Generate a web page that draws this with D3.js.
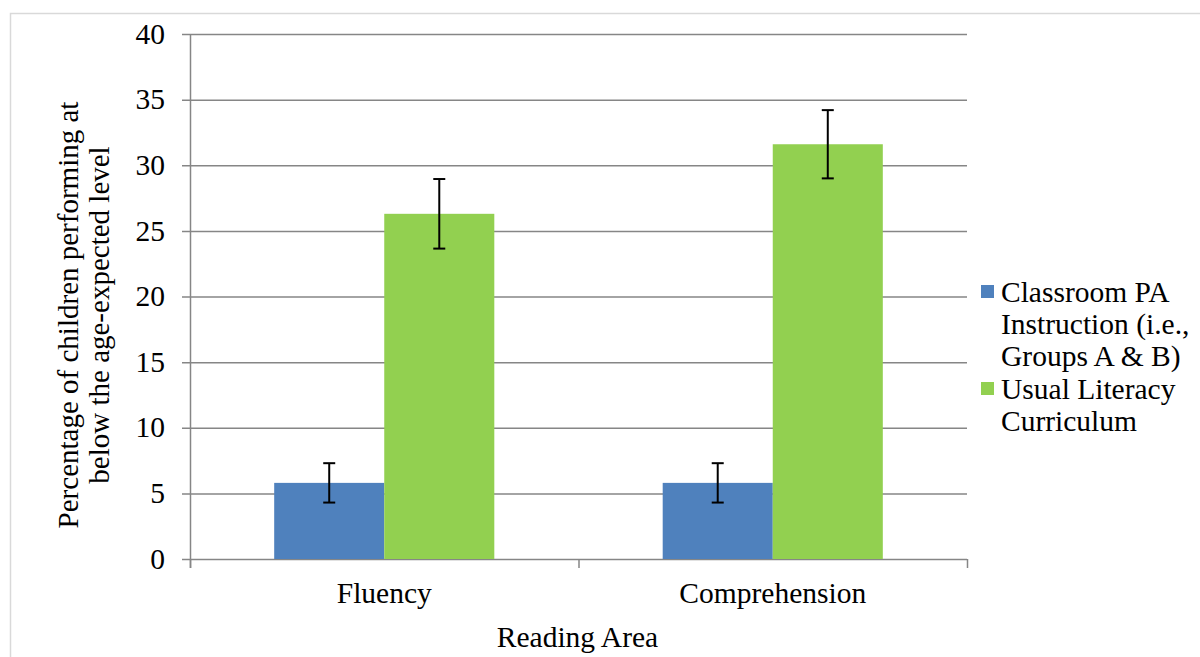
<!DOCTYPE html>
<html><head><meta charset="utf-8">
<script src="https://cdn.jsdelivr.net/npm/d3@7"></script>
<style>body{margin:0;background:#fff}svg{display:block}</style>
</head><body><svg id="c" width="1200" height="657"></svg>
<script>
const categories = ["Fluency", "Comprehension"];
const seriesNames = ["Classroom PA Instruction (i.e., Groups A & B)", "Usual Literacy Curriculum"];
const legendLines = [["Classroom PA", "Instruction (i.e.,", "Groups A & B)"], ["Usual Literacy", "Curriculum"]];
const classroomValues = [5.8, 5.8];
const classroomErrors = [1.5, 1.5];
const usualValues = [26.3, 31.6];
const usualErrors = [2.65, 2.6];
const yTicks = [0, 5, 10, 15, 20, 25, 30, 35, 40];
const colors = ["#4f81bd", "#92d050"];

const FONT = '"Liberation Serif"';
const FS = 29.5;
const svg = d3.select("#c");
// outer border
svg.append("rect").attr("x", 10.5).attr("y", 13.5).attr("width", 1200).attr("height", 700)
  .attr("fill", "none").attr("stroke", "#d9d9d9").attr("stroke-width", 1.5);

const L = 190, R = 967, T = 34, B = 559;
const y = d3.scaleLinear().domain([0, 40]).range([B, T]);
const x0 = d3.scaleBand().domain(categories).range([L, R]).paddingInner(0).paddingOuter(0);
const inner = d3.scaleBand().domain([0, 1]).range([0, x0.bandwidth()]).paddingInner(0).paddingOuter(0.765);

// gridlines
svg.append("g").selectAll("line").data(yTicks).join("line")
  .attr("x1", L - 8).attr("x2", R).attr("y1", d => y(d) + 0.5).attr("y2", d => y(d) + 0.5)
  .attr("stroke", "#868686").attr("stroke-width", 1.5);
// y axis line
svg.append("line").attr("x1", L + 0.5).attr("x2", L + 0.5).attr("y1", T).attr("y2", B + 9)
  .attr("stroke", "#868686").attr("stroke-width", 1.5);
// x ticks
const xTickPos = [L, L + x0.bandwidth(), R];
svg.append("g").selectAll("line").data(xTickPos).join("line")
  .attr("x1", d => d + 0.5).attr("x2", d => d + 0.5).attr("y1", B).attr("y2", B + 9)
  .attr("stroke", "#868686").attr("stroke-width", 1.5);
// y tick labels
svg.append("g").selectAll("text").data(yTicks).join("text")
  .attr("x", L - 25).attr("y", d => y(d)).attr("dy", "0.33em").attr("text-anchor", "end")
  .style("font-family", FONT).style("font-size", FS + "px").attr("fill", "#000").text(d => d);

const series = [
  {vals: classroomValues, errs: classroomErrors},
  {vals: usualValues, errs: usualErrors}
];
series.forEach((s, si) => {
  const g = svg.append("g");
  g.selectAll("rect").data(categories).join("rect")
    .attr("x", c => x0(c) + inner(si)).attr("width", inner.bandwidth())
    .attr("y", (c, i) => y(s.vals[i])).attr("height", (c, i) => B - y(s.vals[i]))
    .attr("fill", colors[si]);
});
series.forEach((s, si) => {
  const g = svg.append("g").attr("stroke", "#000").attr("stroke-width", 2);
  categories.forEach((c, i) => {
    const cx = x0(c) + inner(si) + inner.bandwidth() / 2;
    const hi = y(s.vals[i] + s.errs[i]), lo = y(s.vals[i] - s.errs[i]);
    g.append("line").attr("x1", cx).attr("x2", cx).attr("y1", hi).attr("y2", lo);
    g.append("line").attr("x1", cx - 6).attr("x2", cx + 6).attr("y1", hi).attr("y2", hi);
    g.append("line").attr("x1", cx - 6).attr("x2", cx + 6).attr("y1", lo).attr("y2", lo);
  });
});

// category labels
svg.append("g").selectAll("text").data(categories).join("text")
  .attr("x", c => x0(c) + x0.bandwidth() / 2).attr("y", 603).attr("text-anchor", "middle")
  .style("font-family", FONT).style("font-size", FS + "px").text(c => c);
// x title
svg.append("text").attr("x", (L + R) / 2 - 1).attr("y", 647).attr("text-anchor", "middle")
  .style("font-family", FONT).style("font-size", FS + "px").text("Reading Area");
// y title
const yt = svg.append("text").attr("transform", `translate(0,315) rotate(-90)`)
  .attr("text-anchor", "middle").style("font-family", FONT).style("font-size", "29px");
yt.append("tspan").attr("x", 0).attr("y", 78).text("Percentage of children performing at");
yt.append("tspan").attr("x", 0).attr("y", 109).text("below the age-expected level");

// legend
const legY = [291.5, 388.5];
legendLines.forEach((lines, si) => {
  svg.append("rect").attr("x", 981).attr("y", legY[si] - 6.5).attr("width", 13).attr("height", 13)
    .attr("fill", colors[si]);
  const t = svg.append("text").style("font-family", FONT).style("font-size", FS + "px");
  lines.forEach((ln, li) => {
    t.append("tspan").attr("x", 1001).attr("y", legY[si] + 10 + li * 32).text(ln);
  });
});
</script></body></html>
